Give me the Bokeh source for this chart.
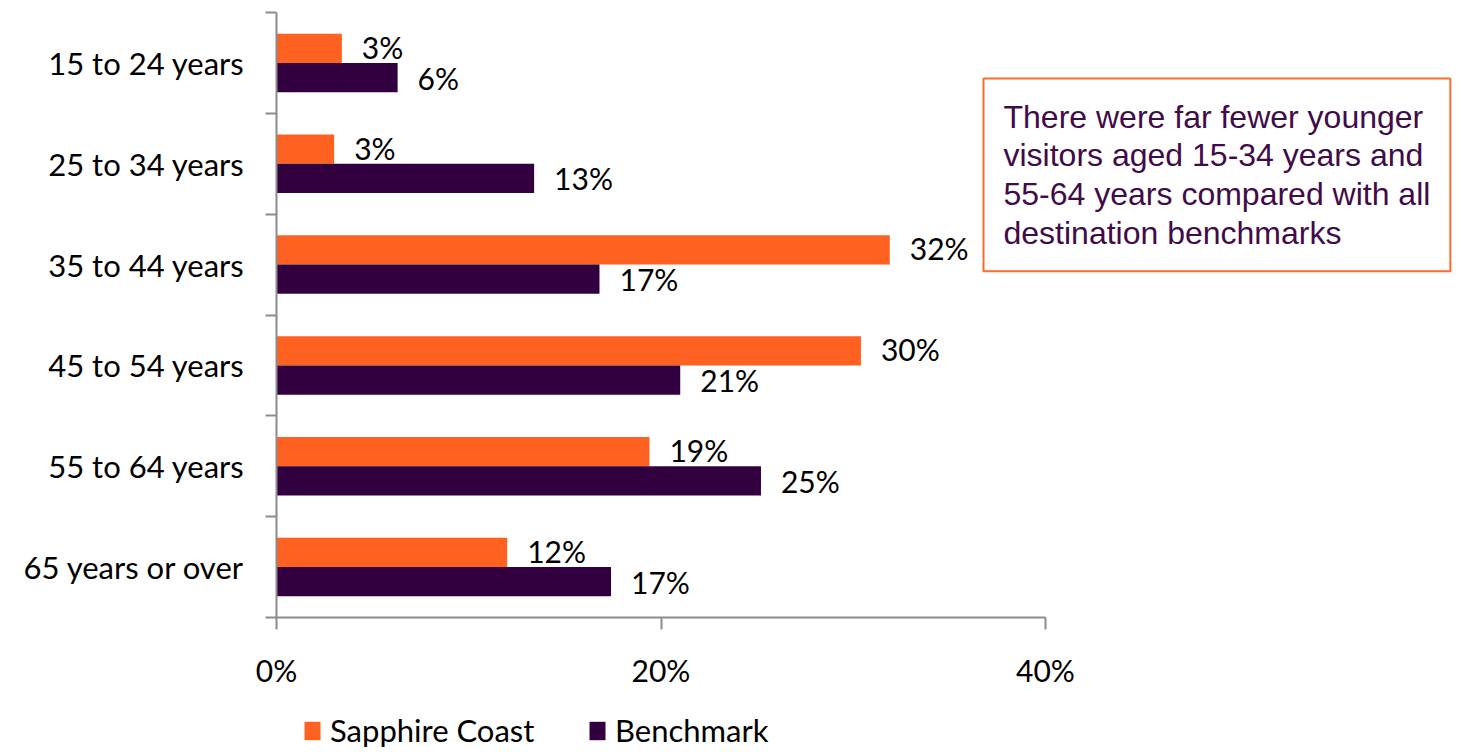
from bokeh.plotting import figure
from bokeh.models import (Range1d, FixedTicker, ColumnDataSource, Label, Legend, LegendItem)
from bokeh.transform import dodge
from bokeh.core.properties import value
from bokeh.embed import file_html
from bokeh.resources import INLINE

categories = ["15 to 24 years", "25 to 34 years", "35 to 44 years",
              "45 to 54 years", "55 to 64 years", "65 years or over"]
sapphire = [3.4, 3.0, 31.9, 30.4, 19.4, 12.0]
benchmark = [6.3, 13.4, 16.8, 21.0, 25.2, 17.4]
series_names = ["Sapphire Coast", "Benchmark"]
x_ticks = [0, 20, 40]
x_tick_labels = ["0%", "20%", "40%"]
note = ("There were far fewer younger\nvisitors aged 15-34 years and\n"
        "55-64 years compared with all\ndestination benchmarks")

ORANGE = "#FF6120"
PURPLE = "#33003F"
AXIS = "#8C8C8C"
FONT = "Lato"

W, H = 1464, 752
AX_L, AX_T = 276, 12        # pixel position of the 0% line and of the top of the category axis
AX_R, AX_B = 1045, 617      # pixel end of the 0-40 axis and bottom of the category axis
n = len(categories)
px_x = (AX_R - AX_L) / 40.0
px_y = (AX_B - AX_T) / n

ypos = [n - i - 0.5 for i in range(n)]

src = ColumnDataSource(dict(
    y=ypos, cat=categories, s=sapphire, b=benchmark,
    sl=[f"{round(v)}%" for v in sapphire],
    bl=[f"{round(v)}%" for v in benchmark],
))

p = figure(width=W, height=H, output_backend="svg", toolbar_location=None,
           x_range=Range1d(-AX_L / px_x, (W - AX_L) / px_x),
           y_range=Range1d(-(H - AX_B) / px_y, n + AX_T / px_y),
           min_border_left=0, min_border_right=0, min_border_top=0,
           min_border_bottom=0)
p.outline_line_color = None
p.xgrid.visible = False
p.ygrid.visible = False
p.background_fill_color = "white"
p.border_fill_color = "white"

r1 = p.hbar(y=dodge("y", 0.145), right="s", height=0.29, left=0, source=src,
            fill_color=ORANGE, line_color=None)
r2 = p.hbar(y=dodge("y", -0.145), right="b", height=0.29, left=0, source=src,
            fill_color=PURPLE, line_color=None)

p.text(x="s", y=dodge("y", 0.16), text="sl", source=src, x_offset=20,
       text_baseline="middle", text_align="left", text_font=value(FONT),
       text_font_size="30px", text_color="black")
p.text(x="b", y=dodge("y", -0.145), text="bl", source=src, x_offset=20,
       text_baseline="middle", text_align="left", text_font=value(FONT),
       text_font_size="30px", text_color="black")

# x axis, pinned at y=0 and limited to 0-40
xa = p.xaxis[0]
xa.fixed_location = 0
xa.bounds = (0, 40)
xa.ticker = FixedTicker(ticks=x_ticks, minor_ticks=[])
xa.major_label_overrides = {t: l for t, l in zip(x_ticks, x_tick_labels)}
xa.axis_line_color = AXIS
xa.axis_line_width = 2
xa.major_tick_line_color = AXIS
xa.major_tick_line_width = 2
xa.major_tick_out = 12
xa.major_tick_in = 0
xa.major_label_standoff = 22
xa.major_label_text_font = FONT
xa.major_label_text_font_size = "30px"
xa.major_label_text_color = "black"

# y axis, pinned at x=0
ya = p.yaxis[0]
ya.fixed_location = 0
ya.bounds = (0, n)
ya.ticker = FixedTicker(ticks=ypos, minor_ticks=list(range(n + 1)))
ya.major_label_overrides = {y: c for y, c in zip(ypos, categories)}
ya.axis_line_color = AXIS
ya.axis_line_width = 2
ya.major_tick_out = 0
ya.major_tick_in = 0
ya.minor_tick_line_color = AXIS
ya.minor_tick_line_width = 2
ya.minor_tick_out = 11
ya.minor_tick_in = 0
ya.major_label_standoff = 21
ya.major_label_text_font = FONT
ya.major_label_text_font_size = "31px"
ya.major_label_text_color = "black"

# annotation box
lab = Label(x=(983 - AX_L) / px_x, y=n - (78 - AX_T) / px_y, text=note,
            text_align="left", text_baseline="top",
            text_font="Liberation Sans", text_font_size="32px", text_color="#3F0B4A",
            text_line_height=1.08, padding=20,
            border_line_color="#FF6B2D", border_line_width=2,
            background_fill_color="white")
p.add_layout(lab)

# legends (one per item so each sits where the reference has it)
for r, name, lx in [(r1, series_names[0], 302), (r2, series_names[1], 587)]:
    lg = Legend(items=[LegendItem(label=name, renderers=[r])],
                location=(lx, H - 749),
                orientation="horizontal", glyph_width=20, glyph_height=23,
                label_height=23, label_standoff=8, padding=0, margin=0,
                border_line_color=None, background_fill_alpha=0,
                label_text_font=FONT, label_text_font_size="31px",
                label_text_color="black", label_text_baseline="middle")
    p.add_layout(lg)

open("out.html", "w").write(file_html(p, INLINE))
